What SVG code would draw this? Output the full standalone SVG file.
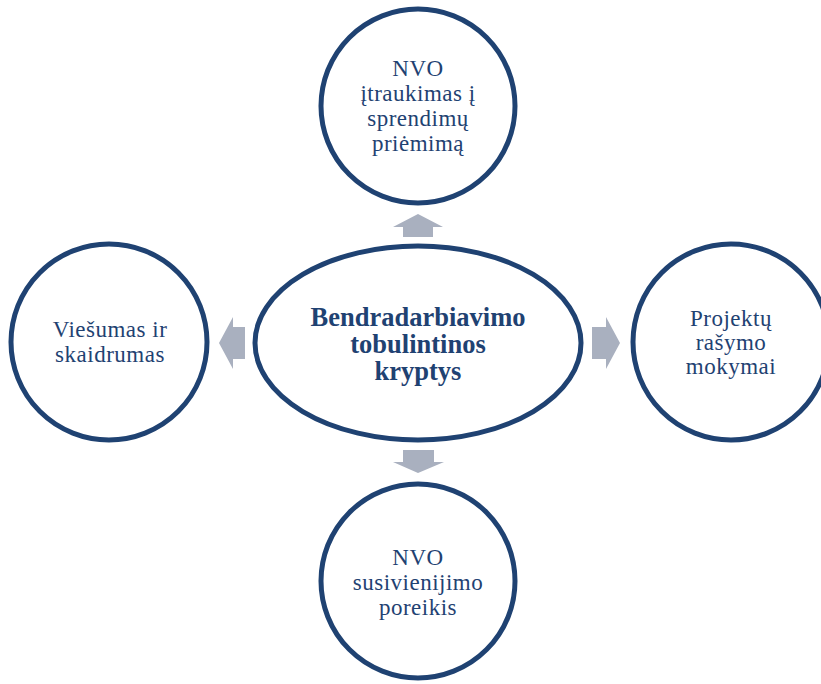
<svg xmlns="http://www.w3.org/2000/svg" width="821" height="684" viewBox="0 0 821 684">
<style>
.node{fill:#ffffff;stroke:#1f4272;stroke-width:5}
text{font-family:'Liberation Serif',Tinos,'Times New Roman',Times,serif;fill:#1f4272;text-anchor:middle}
.t{font-size:23px;letter-spacing:0.5px}
.b{font-size:26.5px;font-weight:bold}
.arr{fill:#a9b0bf}
</style>
<rect width="821" height="684" fill="#ffffff"/>
<g id="connectors">
<polygon class="arr" points="403,237 403,227 393,227 418,214 443,227 433,227 433,237"/>
<polygon class="arr" points="403,450 434,450 434,462 444,462 418,473 393,462 403,462"/>
<polygon class="arr" points="245,327 245,359 233,359 233,369 219,343 233,317 233,327"/>
<polygon class="arr" points="592,327 606,327 606,317 620,343 606,369 606,359 592,359"/>
</g>
<g id="node-center">
<ellipse class="node" cx="418" cy="343" rx="163" ry="97"/>
<text class="b" x="418" y="326">Bendradarbiavimo</text>
<text class="b" x="418" y="353">tobulintinos</text>
<text class="b" x="418" y="380">kryptys</text>
</g>
<g id="node-top">
<circle class="node" cx="418" cy="106" r="97"/>
<text class="t" x="418" y="76">NVO</text>
<text class="t" x="418" y="101">įtraukimas į</text>
<text class="t" x="418" y="126">sprendimų</text>
<text class="t" x="418" y="151">priėmimą</text>
</g>
<g id="node-left">
<circle class="node" cx="109" cy="342" r="98"/>
<text class="t" x="110" y="337">Viešumas ir</text>
<text class="t" x="110" y="362">skaidrumas</text>
</g>
<g id="node-right">
<circle class="node" cx="731" cy="342" r="98"/>
<text class="t" x="731" y="326">Projektų</text>
<text class="t" x="731" y="350">rašymo</text>
<text class="t" x="731" y="374">mokymai</text>
</g>
<g id="node-bottom">
<circle class="node" cx="418" cy="581" r="97"/>
<text class="t" x="418" y="565">NVO</text>
<text class="t" x="418" y="590">susivienijimo</text>
<text class="t" x="418" y="615">poreikis</text>
</g>
</svg>
